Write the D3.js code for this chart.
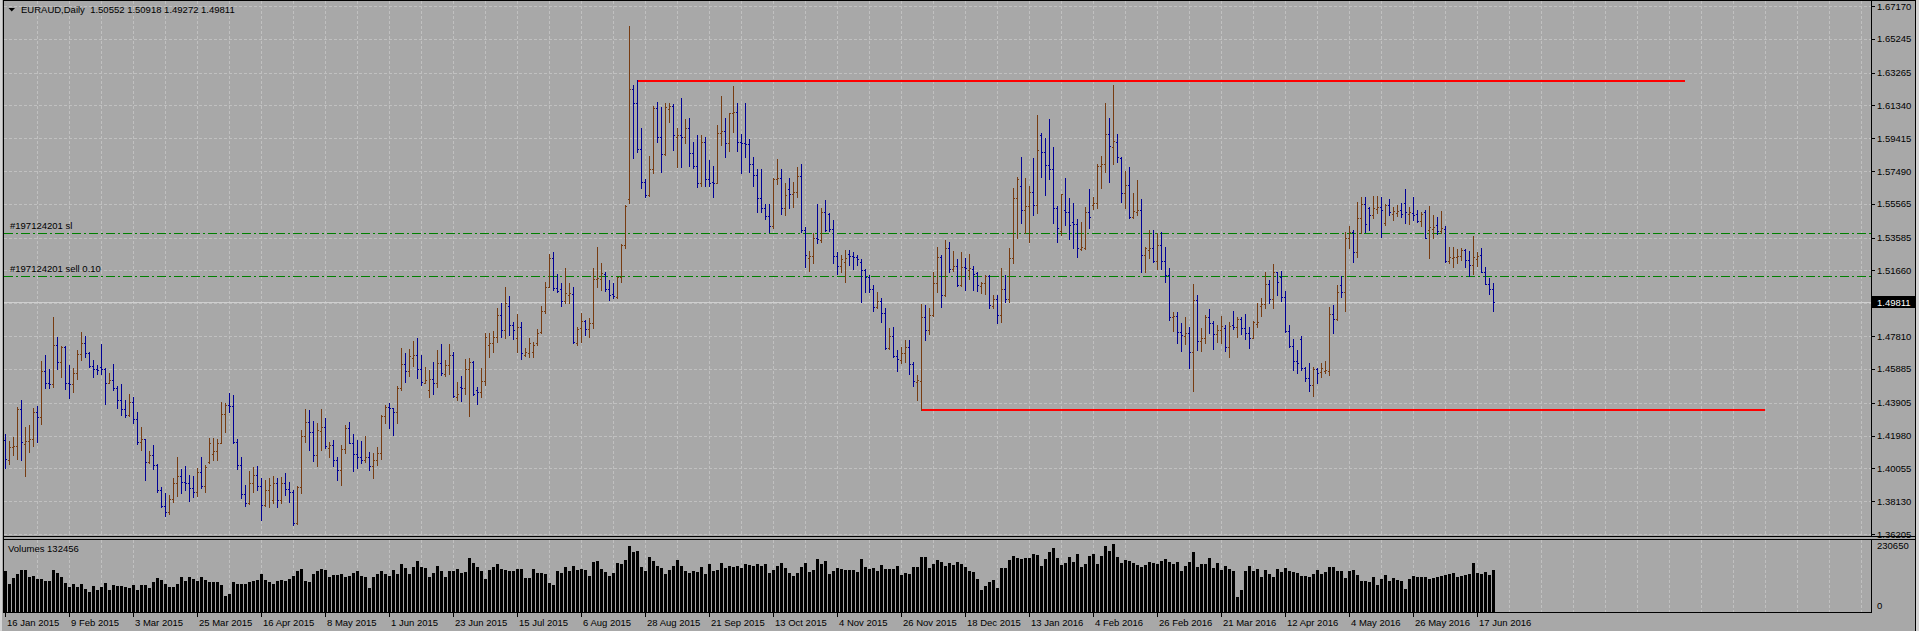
<!DOCTYPE html>
<html>
<head>
<meta charset="utf-8">
<script src="https://cdn.jsdelivr.net/npm/d3@7.9.0/dist/d3.min.js"></script>
<style>
  html, body { margin: 0; padding: 0; background: #a8a8a8; overflow: hidden; }
  svg { display: block; font-family: Tahoma, "Liberation Sans", Arial, sans-serif; font-size: 9.5px; }
</style>
</head>
<body>
<svg id="chart" width="1919" height="631"></svg>
<script>
// ---- data ----
const symbolTitle = 'EURAUD,Daily  1.50552 1.50918 1.49272 1.49811';
const bidPrice = 1.49811;
const volumeMax = 230650;
const volumeLast = 132456;

const priceTicks = [1.67170, 1.65245, 1.63265, 1.61340, 1.59415, 1.57490, 1.55565, 1.53585,
  1.51660, 1.49735, 1.47810, 1.45885, 1.43905, 1.41980, 1.40055, 1.38130, 1.36205];

// one label every 16 bars
const dateLabels = ['16 Jan 2015', '9 Feb 2015', '3 Mar 2015', '25 Mar 2015', '16 Apr 2015', '8 May 2015',
  '1 Jun 2015', '23 Jun 2015', '15 Jul 2015', '6 Aug 2015', '28 Aug 2015', '21 Sep 2015', '13 Oct 2015',
  '4 Nov 2015', '26 Nov 2015', '18 Dec 2015', '13 Jan 2016', '4 Feb 2016', '26 Feb 2016', '21 Mar 2016',
  '12 Apr 2016', '4 May 2016', '26 May 2016', '17 Jun 2016'];

const orderLines = [
  { label: '#197124201 sl', price: 1.5386 },
  { label: '#197124201 sell 0.10', price: 1.5133 }
];

// horizontal levels drawn by hand: from bar / to bar (bar index), price
const levelLines = [
  { from: 158, to: 420, price: 1.6278 },
  { from: 229, to: 440, price: 1.4348 }
];

// daily bars [open, high, low, close]
const bars = [
  [1.4172,1.4205,1.4006,1.4059],[1.4055,1.4166,1.4029,1.4131],[1.4131,1.4191,1.4084,1.4135],[1.4135,1.4363,1.4060,1.4354],
  [1.4354,1.4406,1.4055,1.4158],[1.4150,1.4250,1.3963,1.4165],[1.4165,1.4260,1.4103,1.4176],[1.4176,1.4358,1.4139,1.4334],
  [1.4334,1.4371,1.4162,1.4305],[1.4305,1.4635,1.4266,1.4577],[1.4577,1.4670,1.4479,1.4508],[1.4508,1.4586,1.4479,1.4500],
  [1.4500,1.4895,1.4485,1.4729],[1.4729,1.4778,1.4588,1.4627],[1.4627,1.4725,1.4543,1.4717],[1.4717,1.4725,1.4471,1.4508],
  [1.4508,1.4612,1.4420,1.4500],[1.4500,1.4592,1.4455,1.4563],[1.4563,1.4700,1.4530,1.4676],[1.4676,1.4803,1.4641,1.4739],
  [1.4739,1.4784,1.4661,1.4684],[1.4684,1.4690,1.4602,1.4605],[1.4605,1.4641,1.4543,1.4588],[1.4588,1.4612,1.4559,1.4585],
  [1.4600,1.4735,1.4559,1.4590],[1.4590,1.4592,1.4383,1.4506],[1.4506,1.4567,1.4504,1.4522],[1.4522,1.4618,1.4465,1.4475],
  [1.4475,1.4489,1.4362,1.4406],[1.4406,1.4500,1.4319,1.4354],[1.4354,1.4406,1.4308,1.4319],[1.4319,1.4442,1.4313,1.4393],
  [1.4393,1.4426,1.4270,1.4295],[1.4295,1.4338,1.4146,1.4162],[1.4162,1.4250,1.4113,1.4175],[1.4175,1.4180,1.3937,1.4045],
  [1.4045,1.4109,1.4035,1.4084],[1.4084,1.4143,1.4000,1.4025],[1.4025,1.4030,1.3865,1.3879],[1.3879,1.3894,1.3781,1.3785],
  [1.3785,1.3859,1.3728,1.3752],[1.3752,1.3849,1.3738,1.3824],[1.3824,1.3947,1.3806,1.3922],[1.3922,1.4074,1.3845,1.3961],
  [1.3961,1.4000,1.3863,1.3928],[1.3928,1.4019,1.3879,1.3920],[1.3920,1.3967,1.3814,1.3888],[1.3888,1.3961,1.3840,1.3865],
  [1.3865,1.4006,1.3843,1.3982],[1.3982,1.4074,1.3888,1.3902],[1.3902,1.4025,1.3869,1.4015],[1.4040,1.4182,1.4035,1.4152],
  [1.4090,1.4186,1.4055,1.4110],[1.4110,1.4176,1.4055,1.4156],[1.4156,1.4397,1.4152,1.4322],[1.4322,1.4387,1.4221,1.4377],
  [1.4377,1.4446,1.4338,1.4370],[1.4370,1.4436,1.4152,1.4158],[1.4158,1.4176,1.4002,1.4025],[1.4025,1.4074,1.3830,1.3855],
  [1.3855,1.3908,1.3787,1.3800],[1.3800,1.3990,1.3796,1.3922],[1.3922,1.4016,1.3869,1.3967],[1.3967,1.4020,1.3879,1.3902],
  [1.3902,1.3947,1.3703,1.3791],[1.3791,1.3937,1.3785,1.3879],[1.3879,1.3947,1.3777,1.3908],[1.3820,1.3961,1.3804,1.3918],
  [1.3918,1.3947,1.3777,1.3820],[1.3820,1.3957,1.3804,1.3918],[1.3918,1.3977,1.3849,1.3885],[1.3885,1.3927,1.3810,1.3865],
  [1.3865,1.3879,1.3673,1.3683],[1.3683,1.3902,1.3679,1.3894],[1.3894,1.4231,1.3859,1.4196],[1.4196,1.4354,1.4162,1.4279],
  [1.4279,1.4348,1.4113,1.4217],[1.4217,1.4285,1.4049,1.4084],[1.4084,1.4270,1.4022,1.4231],[1.4227,1.4354,1.4113,1.4246],
  [1.4246,1.4299,1.4127,1.4137],[1.4123,1.4162,1.4074,1.4143],[1.4143,1.4172,1.4022,1.4055],[1.4055,1.4074,1.3937,1.3996],
  [1.3996,1.4143,1.3908,1.4117],[1.4117,1.4260,1.4094,1.4240],[1.4240,1.4279,1.4152,1.4155],[1.4155,1.4207,1.3992,1.4088],
  [1.4088,1.4172,1.4006,1.4074],[1.4074,1.4168,1.4039,1.4055],[1.4055,1.4196,1.4041,1.4074],[1.4074,1.4104,1.3996,1.4022],
  [1.4022,1.4094,1.3947,1.4055],[1.4055,1.4133,1.4025,1.4098],[1.4098,1.4319,1.4061,1.4315],[1.4315,1.4377,1.4274,1.4367],
  [1.4367,1.4391,1.4240,1.4358],[1.4358,1.4362,1.4201,1.4338],[1.4338,1.4489,1.4270,1.4475],[1.4475,1.4710,1.4465,1.4616],
  [1.4616,1.4684,1.4514,1.4579],[1.4579,1.4704,1.4549,1.4665],[1.4651,1.4753,1.4606,1.4670],[1.4670,1.4768,1.4538,1.4586],
  [1.4586,1.4670,1.4494,1.4514],[1.4508,1.4602,1.4504,1.4524],[1.4465,1.4582,1.4426,1.4528],[1.4528,1.4631,1.4442,1.4504],
  [1.4504,1.4700,1.4485,1.4626],[1.4626,1.4735,1.4553,1.4567],[1.4559,1.4641,1.4547,1.4610],[1.4610,1.4735,1.4559,1.4670],
  [1.4670,1.4690,1.4426,1.4432],[1.4426,1.4514,1.4407,1.4440],[1.4485,1.4547,1.4403,1.4475],[1.4475,1.4645,1.4440,1.4586],
  [1.4586,1.4651,1.4315,1.4631],[1.4631,1.4637,1.4436,1.4442],[1.4465,1.4485,1.4383,1.4454],[1.4454,1.4592,1.4426,1.4518],
  [1.4518,1.4798,1.4494,1.4778],[1.4729,1.4798,1.4661,1.4743],[1.4743,1.4813,1.4690,1.4774],[1.4774,1.4944,1.4749,1.4905],
  [1.4905,1.4973,1.4778,1.4817],[1.4817,1.5071,1.4768,1.4977],[1.4958,1.5016,1.4788,1.4846],[1.4846,1.4866,1.4762,1.4817],
  [1.4768,1.4910,1.4690,1.4832],[1.4832,1.4866,1.4645,1.4680],[1.4670,1.4709,1.4664,1.4690],[1.4680,1.4768,1.4660,1.4743],
  [1.4690,1.4748,1.4657,1.4729],[1.4743,1.4821,1.4729,1.4801],[1.4807,1.4958,1.4797,1.4928],[1.4928,1.5100,1.4918,1.5071],
  [1.5071,1.5263,1.5067,1.5237],[1.5237,1.5276,1.5051,1.5065],[1.5065,1.5145,1.5042,1.5046],[1.5055,1.5091,1.4960,1.4987],
  [1.4987,1.5178,1.4977,1.5032],[1.5022,1.5091,1.4973,1.5032],[1.5028,1.5071,1.4739,1.4748],[1.4743,1.4836,1.4729,1.4821],
  [1.4827,1.4914,1.4748,1.4870],[1.4870,1.4875,1.4788,1.4821],[1.4821,1.4885,1.4778,1.4860],[1.4860,1.5178,1.4827,1.5114],
  [1.5114,1.5302,1.5071,1.5120],[1.5114,1.5208,1.5051,1.5149],[1.5145,1.5155,1.5047,1.5055],[1.5055,1.5110,1.4993,1.5022],
  [1.5028,1.5091,1.5002,1.5016],[1.5012,1.5130,1.5002,1.5126],[1.5126,1.5319,1.5100,1.5315],[1.5315,1.5550,1.5296,1.5546],
  [1.5583,1.6600,1.5560,1.6228],[1.6228,1.6254,1.5824,1.6146],[1.6146,1.6283,1.5859,1.5876],[1.5876,1.6000,1.5648,1.5687],
  [1.5687,1.5700,1.5595,1.5609],[1.5609,1.5837,1.5603,1.5759],[1.5759,1.6131,1.5740,1.6117],[1.6117,1.6156,1.5921,1.5947],
  [1.5947,1.6123,1.5746,1.5847],[1.5847,1.6146,1.5843,1.6123],[1.6111,1.6146,1.6039,1.6131],[1.6131,1.6142,1.5873,1.5961],
  [1.5951,1.6004,1.5775,1.5961],[1.5961,1.6176,1.5775,1.5951],[1.5951,1.6052,1.5916,1.6000],[1.6004,1.6058,1.5781,1.5853],
  [1.5853,1.5917,1.5765,1.5779],[1.5779,1.5961,1.5657,1.5681],[1.5681,1.5961,1.5663,1.5921],[1.5921,1.5947,1.5663,1.5700],
  [1.5700,1.5814,1.5661,1.5681],[1.5687,1.5781,1.5599,1.5677],[1.5681,1.6019,1.5677,1.5970],[1.5970,1.6189,1.5902,1.5984],
  [1.5984,1.6058,1.5833,1.5912],[1.5912,1.6092,1.5869,1.6088],[1.6088,1.6248,1.5980,1.6097],[1.6097,1.6146,1.5869,1.5918],
  [1.5918,1.5966,1.5740,1.5915],[1.5915,1.6150,1.5833,1.5910],[1.5910,1.5937,1.5746,1.5790],[1.5790,1.5833,1.5661,1.5726],
  [1.5726,1.5761,1.5511,1.5589],[1.5589,1.5761,1.5511,1.5534],[1.5534,1.5554,1.5468,1.5488],[1.5488,1.5554,1.5394,1.5427],
  [1.5427,1.5706,1.5417,1.5700],[1.5700,1.5820,1.5671,1.5710],[1.5708,1.5761,1.5495,1.5534],[1.5534,1.5677,1.5491,1.5609],
  [1.5642,1.5706,1.5530,1.5613],[1.5613,1.5683,1.5540,1.5624],[1.5624,1.5771,1.5599,1.5720],[1.5720,1.5790,1.5390,1.5404],
  [1.5404,1.5419,1.5188,1.5257],[1.5237,1.5280,1.5165,1.5251],[1.5251,1.5384,1.5212,1.5355],[1.5355,1.5554,1.5325,1.5351],
  [1.5345,1.5530,1.5335,1.5511],[1.5511,1.5579,1.5398,1.5404],[1.5495,1.5501,1.5398,1.5407],[1.5407,1.5462,1.5212,1.5251],
  [1.5251,1.5276,1.5145,1.5194],[1.5194,1.5257,1.5159,1.5233],[1.5218,1.5286,1.5100,1.5237],[1.5261,1.5286,1.5198,1.5251],
  [1.5251,1.5272,1.5173,1.5247],[1.5247,1.5257,1.5198,1.5233],[1.5218,1.5233,1.4983,1.5169],[1.5169,1.5175,1.5042,1.5130],
  [1.5130,1.5140,1.5038,1.5057],[1.5057,1.5081,1.4930,1.4954],[1.4954,1.5042,1.4944,1.4987],[1.4987,1.5003,1.4866,1.4915],
  [1.4915,1.4944,1.4704,1.4710],[1.4710,1.4831,1.4706,1.4784],[1.4784,1.4833,1.4661,1.4665],[1.4665,1.4700,1.4578,1.4645],
  [1.4641,1.4719,1.4622,1.4680],[1.4680,1.4759,1.4631,1.4719],[1.4719,1.4759,1.4559,1.4618],[1.4618,1.4631,1.4490,1.4518],
  [1.4510,1.4553,1.4406,1.4522],[1.4518,1.4968,1.4348,1.4895],[1.4895,1.4964,1.4758,1.4817],[1.4817,1.4948,1.4792,1.4905],
  [1.4905,1.5155,1.4901,1.5091],[1.5091,1.5306,1.5042,1.5243],[1.5243,1.5257,1.4954,1.5022],[1.5022,1.5345,1.5018,1.5296],
  [1.5296,1.5335,1.5155,1.5175],[1.5175,1.5280,1.5163,1.5194],[1.5194,1.5233,1.5077,1.5081],[1.5081,1.5276,1.5077,1.5188],
  [1.5188,1.5237,1.5052,1.5179],[1.5169,1.5261,1.5116,1.5183],[1.5175,1.5194,1.5052,1.5143],[1.5149,1.5159,1.5046,1.5081],
  [1.5077,1.5096,1.5032,1.5093],[1.5090,1.5140,1.5028,1.5134],[1.5134,1.5140,1.4944,1.4964],[1.4958,1.5022,1.4948,1.4999],
  [1.4999,1.5022,1.4860,1.4905],[1.4905,1.5183,1.4866,1.5055],[1.5055,1.5140,1.4979,1.4999],[1.4999,1.5296,1.4979,1.5237],
  [1.5237,1.5648,1.5208,1.5589],[1.5589,1.5716,1.5354,1.5702],[1.5661,1.5833,1.5446,1.5520],[1.5520,1.5706,1.5384,1.5544],
  [1.5544,1.5661,1.5335,1.5628],[1.5628,1.5824,1.5491,1.5550],[1.5550,1.6078,1.5501,1.5872],[1.5960,1.5974,1.5716,1.5859],
  [1.5859,1.5945,1.5609,1.5784],[1.5784,1.6054,1.5702,1.5759],[1.5759,1.5892,1.5446,1.5530],[1.5530,1.5544,1.5335,1.5413],
  [1.5397,1.5614,1.5374,1.5612],[1.5520,1.5710,1.5433,1.5511],[1.5511,1.5593,1.5349,1.5433],[1.5452,1.5560,1.5300,1.5437],
  [1.5437,1.5468,1.5247,1.5296],[1.5292,1.5452,1.5286,1.5306],[1.5300,1.5540,1.5290,1.5507],[1.5507,1.5644,1.5417,1.5481],
  [1.5550,1.5599,1.5526,1.5562],[1.5560,1.5788,1.5530,1.5781],[1.5781,1.5837,1.5648,1.5792],[1.5788,1.6146,1.5741,1.5964],
  [1.5964,1.6058,1.5687,1.5898],[1.5892,1.6254,1.5788,1.5925],[1.5921,1.5964,1.5800,1.5833],[1.5823,1.5833,1.5570,1.5618],
  [1.5618,1.5749,1.5534,1.5667],[1.5667,1.5775,1.5476,1.5481],[1.5481,1.5618,1.5476,1.5515],[1.5507,1.5696,1.5491,1.5520],
  [1.5520,1.5585,1.5159,1.5257],[1.5257,1.5306,1.5159,1.5296],[1.5286,1.5403,1.5237,1.5300],[1.5300,1.5403,1.5218,1.5222],
  [1.5222,1.5384,1.5173,1.5315],[1.5315,1.5390,1.5173,1.5222],[1.5222,1.5306,1.5100,1.5139],[1.5139,1.5182,1.4875,1.4891],
  [1.4891,1.4920,1.4813,1.4901],[1.4901,1.4920,1.4739,1.4807],[1.4807,1.4856,1.4696,1.4787],[1.4784,1.4891,1.4735,1.4801],
  [1.4801,1.4836,1.4592,1.4690],[1.4690,1.5086,1.4461,1.4993],[1.4993,1.5022,1.4700,1.4752],[1.4752,1.4827,1.4696,1.4768],
  [1.4768,1.4905,1.4739,1.4895],[1.4895,1.4940,1.4797,1.4856],[1.4856,1.4872,1.4706,1.4791],[1.4791,1.4846,1.4748,1.4817],
  [1.4817,1.4901,1.4739,1.4842],[1.4830,1.4846,1.4694,1.4715],[1.4715,1.4866,1.4660,1.4842],[1.4846,1.4928,1.4823,1.4836],
  [1.4836,1.4891,1.4778,1.4881],[1.4881,1.4891,1.4791,1.4831],[1.4831,1.4909,1.4762,1.4797],[1.4797,1.4836,1.4713,1.4772],
  [1.4772,1.4870,1.4768,1.4862],[1.4850,1.4977,1.4832,1.4862],[1.4960,1.5003,1.4900,1.4972],[1.4969,1.5159,1.4948,1.5085],
  [1.5085,1.5110,1.4973,1.4997],[1.4997,1.5204,1.4948,1.5155],[1.5155,1.5159,1.5022,1.5096],[1.5130,1.5163,1.4989,1.5012],
  [1.5012,1.5047,1.4807,1.4811],[1.4811,1.4846,1.4719,1.4725],[1.4725,1.4762,1.4582,1.4637],[1.4637,1.4700,1.4563,1.4621],
  [1.4764,1.4779,1.4582,1.4592],[1.4592,1.4602,1.4520,1.4533],[1.4533,1.4625,1.4461,1.4494],[1.4494,1.4598,1.4430,1.4586],
  [1.4586,1.4592,1.4508,1.4563],[1.4569,1.4625,1.4539,1.4592],[1.4574,1.4637,1.4567,1.4582],[1.4578,1.4954,1.4553,1.4909],
  [1.4909,1.4963,1.4801,1.4879],[1.4879,1.5081,1.4875,1.5042],[1.5081,1.5133,1.5012,1.5038],[1.5038,1.5393,1.4930,1.5358],
  [1.5354,1.5427,1.5296,1.5393],[1.5393,1.5403,1.5218,1.5272],[1.5272,1.5569,1.5243,1.5472],[1.5472,1.5595,1.5384,1.5556],
  [1.5556,1.5595,1.5393,1.5438],[1.5530,1.5540,1.5403,1.5491],[1.5491,1.5603,1.5472,1.5530],[1.5524,1.5603,1.5501,1.5536],
  [1.5536,1.5595,1.5364,1.5521],[1.5442,1.5556,1.5433,1.5550],[1.5550,1.5583,1.5491,1.5507],[1.5497,1.5536,1.5462,1.5515],
  [1.5505,1.5550,1.5485,1.5517],[1.5520,1.5560,1.5480,1.5500],[1.5560,1.5644,1.5446,1.5507],[1.5495,1.5540,1.5438,1.5507],
  [1.5501,1.5599,1.5462,1.5491],[1.5497,1.5521,1.5452,1.5458],[1.5458,1.5511,1.5427,1.5497],[1.5507,1.5521,1.5354,1.5358],
  [1.5403,1.5544,1.5237,1.5419],[1.5411,1.5491,1.5354,1.5423],[1.5430,1.5480,1.5380,1.5400],[1.5399,1.5517,1.5388,1.5413],
  [1.5411,1.5427,1.5218,1.5223],[1.5223,1.5305,1.5212,1.5247],[1.5237,1.5302,1.5188,1.5247],[1.5243,1.5290,1.5212,1.5251],
  [1.5251,1.5296,1.5227,1.5286],[1.5286,1.5290,1.5184,1.5227],[1.5227,1.5280,1.5133,1.5198],[1.5198,1.5368,1.5143,1.5243],
  [1.5231,1.5276,1.5192,1.5251],[1.5257,1.5296,1.5159,1.5159],[1.5159,1.5188,1.5087,1.5087],[1.5087,1.5120,1.5028,1.5055],
  [1.50552,1.50918,1.49272,1.49811]
];

// tick volume per bar, thousands
const volumeThousands = [
  129,88,107,120,132,132,110,113,103,105,99,96,132,123,109,91,78,88,78,88,
  73,62,80,68,77,91,67,83,81,81,78,75,86,69,83,83,75,93,107,100,
  88,77,77,88,110,99,109,105,96,110,100,93,94,94,86,48,55,93,89,88,
  88,94,96,102,120,102,94,89,96,102,99,103,115,129,136,96,94,120,131,136,
  134,110,118,118,120,109,113,123,129,113,109,75,109,120,129,120,115,132,120,153,
  140,120,142,161,142,140,109,123,145,129,109,129,129,138,123,127,172,156,142,129,
  104,132,142,153,136,132,131,129,136,136,107,107,138,123,123,120,91,86,131,123,
  142,129,145,132,138,132,113,159,161,138,127,115,123,156,154,165,211,192,194,143,
  129,174,161,145,140,121,134,147,167,145,129,123,129,126,142,120,153,131,134,156,
  140,145,142,145,140,153,151,147,153,147,153,123,132,145,156,140,123,115,123,143,
  156,127,132,169,153,161,120,129,140,136,132,132,132,127,169,143,136,140,129,148,
  136,136,136,145,117,123,120,143,143,175,175,140,154,165,158,147,156,148,158,153,
  143,131,126,104,67,82,94,100,75,140,140,165,178,172,170,172,172,185,183,145,
  169,191,205,172,151,156,174,158,186,143,154,180,186,153,180,212,194,218,175,156,
  165,161,156,151,143,151,158,156,153,161,169,158,153,158,131,147,159,192,143,153,
  153,172,140,156,132,145,136,129,45,67,129,145,131,136,110,132,121,110,138,126,
  140,131,126,123,113,115,109,120,132,120,126,143,142,129,131,107,131,132,118,99,
  99,94,109,86,105,118,96,107,100,99,71,104,115,110,109,110,104,107,109,115,
  116,120,123,109,115,116,120,156,123,120,127,116,132
];

// ---- layout ----
const width = 1919;
const height = 631;
const pane = { left: 3, right: 1871, top: 0, bottom: 536 };
const volPane = { top: 539, bottom: 612 };
const upColor = '#773c12';
const downColor = '#000096';
const gridColor = '#c0c0c0';
const crisp = (v) => Math.round(v) + 0.5;

const svg = d3.select('#chart');

const xScale = d3.scaleLinear()
  .domain([0, bars.length - 1])
  .range([5, 5 + 4 * (bars.length - 1)]);

const yScale = d3.scaleLinear()
  .domain([priceTicks[priceTicks.length - 1], priceTicks[0]])
  .range([534, 6]);

const vScale = d3.scaleLinear()
  .domain([0, volumeMax])
  .range([611, 540]);

svg.append('rect').attr('width', width).attr('height', height).attr('fill', '#a8a8a8');
svg.append('rect').attr('x', 0).attr('y', 0).attr('width', 2).attr('height', height).attr('fill', '#d4d4d4');
svg.append('rect').attr('x', 1916).attr('y', 0).attr('width', 3).attr('height', height).attr('fill', '#d4d4d4');

// grid
const grid = svg.append('g')
  .attr('stroke', gridColor)
  .attr('stroke-dasharray', '3,2')
  .attr('shape-rendering', 'crispEdges');

grid.selectAll('line.h')
  .data(priceTicks)
  .join('line')
  .attr('class', 'h')
  .attr('x1', pane.left + 1).attr('x2', pane.right)
  .attr('y1', (d) => crisp(yScale(d))).attr('y2', (d) => crisp(yScale(d)));

const gridBars = d3.range(8, 480, 8).filter((i) => xScale(i) < pane.right - 2);
[[pane.top + 1, pane.bottom], [volPane.top + 1, volPane.bottom]].forEach(([y1, y2]) => {
  grid.append('g').selectAll('line')
    .data(gridBars)
    .join('line')
    .attr('x1', (d) => crisp(xScale(d))).attr('x2', (d) => crisp(xScale(d)))
    .attr('y1', y1).attr('y2', y2);
});

// bid line
svg.append('line')
  .attr('x1', pane.left + 1).attr('x2', pane.right)
  .attr('y1', crisp(yScale(bidPrice))).attr('y2', crisp(yScale(bidPrice)))
  .attr('stroke', '#cfcfcf')
  .attr('shape-rendering', 'crispEdges');

// order lines
const orders = svg.append('g');
orders.selectAll('line')
  .data(orderLines)
  .join('line')
  .attr('x1', pane.left + 1).attr('x2', pane.right)
  .attr('y1', (d) => crisp(yScale(d.price))).attr('y2', (d) => crisp(yScale(d.price)))
  .attr('stroke', '#008000')
  .attr('stroke-dasharray', '9,3,2,3')
  .attr('shape-rendering', 'crispEdges');
orders.selectAll('text')
  .data(orderLines)
  .join('text')
  .attr('x', 10)
  .attr('y', (d) => yScale(d.price) - 4)
  .attr('fill', '#000')
  .text((d) => d.label);

// level lines
svg.append('g').selectAll('line')
  .data(levelLines)
  .join('line')
  .attr('x1', (d) => xScale(d.from)).attr('x2', (d) => xScale(d.to))
  .attr('y1', (d) => Math.round(yScale(d.price))).attr('y2', (d) => Math.round(yScale(d.price)))
  .attr('stroke', '#ff0000')
  .attr('stroke-width', 2)
  .attr('shape-rendering', 'crispEdges');

// OHLC bars
const barG = svg.append('g').attr('shape-rendering', 'crispEdges');
const ohlc = barG.selectAll('g')
  .data(bars)
  .join('g')
  .attr('stroke', (d) => (d[3] > d[0] ? upColor : downColor));
ohlc.append('line')
  .attr('x1', (d, i) => crisp(xScale(i))).attr('x2', (d, i) => crisp(xScale(i)))
  .attr('y1', (d) => yScale(d[1])).attr('y2', (d) => yScale(d[2]) + 1);
ohlc.append('line')
  .attr('x1', (d, i) => Math.round(xScale(i)) - 1).attr('x2', (d, i) => Math.round(xScale(i)))
  .attr('y1', (d) => crisp(yScale(d[0]))).attr('y2', (d) => crisp(yScale(d[0])));
ohlc.append('line')
  .attr('x1', (d, i) => Math.round(xScale(i)) + 1).attr('x2', (d, i) => Math.round(xScale(i)) + 2)
  .attr('y1', (d) => crisp(yScale(d[3]))).attr('y2', (d) => crisp(yScale(d[3])));

// volumes
svg.append('g').selectAll('rect')
  .data(volumeThousands)
  .join('rect')
  .attr('x', (d, i) => Math.round(xScale(i)) - 1)
  .attr('width', 3)
  .attr('y', (d) => Math.round(vScale(d * 1000)))
  .attr('height', (d) => vScale(0) + 1 - Math.round(vScale(d * 1000)))
  .attr('fill', '#000');

// frames
const frame = svg.append('g').attr('stroke', '#000').attr('fill', 'none').attr('shape-rendering', 'crispEdges');
frame.append('line').attr('x1', pane.left + 0.5).attr('x2', pane.left + 0.5).attr('y1', 0).attr('y2', volPane.bottom + 1);
frame.append('line').attr('x1', pane.left).attr('x2', 1916).attr('y1', 0.5).attr('y2', 0.5);
frame.append('line').attr('x1', 1915.5).attr('x2', 1915.5).attr('y1', 0).attr('y2', height);
frame.append('line').attr('x1', pane.right + 0.5).attr('x2', pane.right + 0.5).attr('y1', 0).attr('y2', pane.bottom);
frame.append('line').attr('x1', pane.right + 0.5).attr('x2', pane.right + 0.5).attr('y1', volPane.top).attr('y2', volPane.bottom + 1);
frame.append('line').attr('x1', pane.left).attr('x2', 1916).attr('y1', pane.bottom + 0.5).attr('y2', pane.bottom + 0.5);
frame.append('line').attr('x1', pane.left).attr('x2', 1916).attr('y1', volPane.top + 0.5).attr('y2', volPane.top + 0.5);
frame.append('line').attr('x1', pane.left).attr('x2', pane.right + 1).attr('y1', volPane.bottom + 0.5).attr('y2', volPane.bottom + 0.5);

// price axis
const axis = svg.append('g');
axis.selectAll('line')
  .data(priceTicks)
  .join('line')
  .attr('x1', pane.right + 1).attr('x2', pane.right + 4)
  .attr('y1', (d) => crisp(yScale(d))).attr('y2', (d) => crisp(yScale(d)))
  .attr('stroke', '#000')
  .attr('shape-rendering', 'crispEdges');
axis.selectAll('text')
  .data(priceTicks)
  .join('text')
  .attr('x', pane.right + 6)
  .attr('y', (d) => yScale(d) + 3.5)
  .attr('fill', '#000')
  .text((d) => d.toFixed(5));

// bid label
const yBid = Math.round(yScale(bidPrice));
svg.append('rect')
  .attr('x', pane.right + 1).attr('y', yBid - 6)
  .attr('width', 43).attr('height', 12)
  .attr('fill', '#000');
svg.append('text')
  .attr('x', pane.right + 6).attr('y', yBid + 3.5)
  .attr('fill', '#fff')
  .text(bidPrice.toFixed(5));

// volume pane texts
svg.append('text').attr('x', 8).attr('y', volPane.top + 13).attr('fill', '#000')
  .text('Volumes ' + volumeLast);
svg.append('text').attr('x', pane.right + 6).attr('y', volPane.top + 10).attr('fill', '#000')
  .text(volumeMax);
svg.append('text').attr('x', pane.right + 6).attr('y', vScale(0) - 2.5).attr('fill', '#000')
  .text('0');

// date axis
const dateAxis = svg.append('g');
dateAxis.selectAll('line')
  .data(dateLabels)
  .join('line')
  .attr('x1', (d, i) => crisp(xScale(i * 16))).attr('x2', (d, i) => crisp(xScale(i * 16)))
  .attr('y1', volPane.bottom + 1).attr('y2', volPane.bottom + 5)
  .attr('stroke', '#000')
  .attr('shape-rendering', 'crispEdges');
dateAxis.selectAll('text')
  .data(dateLabels)
  .join('text')
  .attr('x', (d, i) => Math.round(xScale(i * 16)) + 2)
  .attr('y', 626)
  .attr('fill', '#000')
  .text((d) => d);

// title
svg.append('path').attr('d', 'M8.5,8 L15,8 L11.75,11.5 Z').attr('fill', '#000');
svg.append('text')
  .attr('x', 21).attr('y', 12.5)
  .attr('fill', '#000')
  .style('white-space', 'pre')
  .text(symbolTitle);
</script>
</body>
</html>
